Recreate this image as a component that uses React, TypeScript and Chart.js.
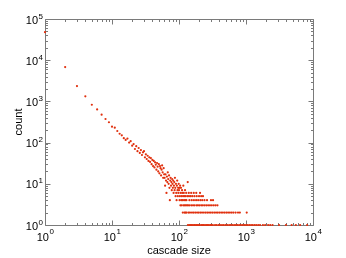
import { useEffect, useRef } from 'react';
import { Chart, registerables } from 'chart.js';

Chart.register(...registerables);

// Cascade sizes 1..135 and their counts
const headSizes = [
  1, 2, 3, 4, 5, 6, 7, 8, 9, 10, 11, 12, 13, 14, 15, 16, 17, 18, 19, 20,
  21, 22, 23, 24, 25, 26, 27, 28, 29, 30, 31, 32, 33, 34, 35, 36, 37, 38, 39, 40,
  41, 42, 43, 44, 45, 46, 47, 48, 49, 50, 51, 52, 53, 54, 55, 56, 57, 58, 59, 60,
  61, 62, 63, 64, 65, 66, 67, 68, 69, 70, 71, 72, 73, 74, 75, 76, 77, 78, 79, 80,
  81, 82, 83, 84, 85, 86, 87, 88, 89, 90, 91, 92, 93, 94, 95, 96, 97, 98, 99, 100,
  101, 102, 103, 104, 105, 106, 107, 108, 109, 110, 111, 112, 113, 114, 115, 116, 117, 118, 119, 120,
  121, 122, 123, 124, 125, 126, 127, 128, 129, 130, 132, 134, 135,
];
const headCounts = [
  48000, 6800, 2360, 1330, 830, 640, 476, 374, 312, 243, 230, 191, 164, 150, 128, 116, 125, 100, 108, 84,
  92, 70, 82, 62, 74, 56, 66, 50, 58, 62, 44, 52, 40, 48, 36, 44, 34, 42, 30, 38,
  27, 36, 25, 33, 29, 22, 32, 26, 20, 30, 18, 27, 24, 16, 22, 28, 19, 14, 24, 17,
  14, 9, 17, 12, 6, 15, 11, 19, 13, 10, 16, 8, 4, 12, 14, 9, 11, 7, 13, 10,
  8, 12, 6, 9, 11, 7, 14, 8, 5, 10, 6, 4, 9, 12, 7, 5, 8, 6, 10, 7,
  8, 4, 5, 9, 3, 6, 8, 4, 5, 3, 7, 6, 4, 2, 5, 9, 3, 6, 4, 5,
  2, 3, 7, 4, 2, 5, 3, 6, 4, 2, 3, 5, 11,
];

// Larger cascade sizes grouped by the count they were seen with
const tailSizesCount6 = [140, 152, 166, 181, 206];
const tailSizesCount5 = [141, 149, 158, 170, 184, 199, 214, 228];
const tailSizesCount4 = [143, 155, 167, 180, 193, 208, 222, 240, 262, 300, 322];
const tailSizesCount3 = [137, 144, 153, 162, 171, 183, 192, 203, 215, 227, 241, 256, 272, 290, 309, 330, 352, 375];
const tailSizesCount2 = [
  139, 146, 156, 165, 175, 186, 197, 209, 221, 235, 250, 265, 281, 298, 316, 336, 357, 378,
  401, 426, 452, 480, 510, 541, 575, 612, 650, 700, 760, 810, 1025,
];
const tailSizesCount1 = [
  136, 142, 148, 154, 161, 168, 174, 182, 189, 198, 205, 216, 225, 234, 245, 258, 268, 280, 295, 305,
  320, 345, 365, 390, 410, 438, 465, 495, 525, 560, 590, 625, 665, 705, 745, 790, 840, 890, 945, 1000,
  1060, 1120, 1190, 1260, 1340, 1420, 1520, 1620, 1790, 1930, 2140, 2300, 2490, 3110, 3950, 4800, 5550,
  6420, 8170,
];

const xTickExponents = [0, 1, 2, 3, 4];
const yTickExponents = [0, 1, 2, 3, 4, 5];
const xTitle = 'cascade size';
const yTitle = 'count';

const FONT = '"Liberation Sans", Arial, Helvetica, sans-serif';
const AXIS_COLOR = '#7a7a7a';
const POINT_COLOR = 'rgb(224, 48, 14)';

export default function App() {
  const ref = useRef<HTMLCanvasElement | null>(null);

  useEffect(() => {
    document.body.style.margin = '0';
    const canvas = ref.current;
    if (!canvas) return;

    const points: { x: number; y: number }[] = [];
    headSizes.forEach((s, i) => points.push({ x: s, y: headCounts[i] }));
    const tails: [number[], number][] = [
      [tailSizesCount6, 6],
      [tailSizesCount5, 5],
      [tailSizesCount4, 4],
      [tailSizesCount3, 3],
      [tailSizesCount2, 2],
      [tailSizesCount1, 1],
    ];
    tails.forEach(([sizes, c]) => sizes.forEach((s) => points.push({ x: s, y: c })));

    const axesPlugin = {
      id: 'boxAxes',
      beforeDatasetsDraw(chart: any) {
        const { ctx, chartArea, scales } = chart;
        const xs = scales.x;
        const ys = scales.y;
        const L = Math.round(chartArea.left) + 0.5;
        const R = Math.round(chartArea.right) + 0.5;
        const T = Math.round(chartArea.top) + 0.5;
        const B = Math.round(chartArea.bottom) + 0.5;
        ctx.save();
        ctx.strokeStyle = AXIS_COLOR;
        ctx.lineWidth = 1;
        ctx.beginPath();
        ctx.rect(L, T, R - L, B - T);
        ctx.stroke();
        const major = 5;
        const minor = 2.5;
        ctx.beginPath();
        for (let e = xTickExponents[0]; e <= xTickExponents[xTickExponents.length - 1]; e++) {
          for (let m = 1; m <= 9; m++) {
            const v = m * Math.pow(10, e);
            if (v > xs.max) break;
            const px = Math.round(xs.getPixelForValue(v)) + 0.5;
            const len = m === 1 ? major : minor;
            ctx.moveTo(px, B);
            ctx.lineTo(px, B - len);
            ctx.moveTo(px, T);
            ctx.lineTo(px, T + len);
          }
        }
        for (let e = yTickExponents[0]; e <= yTickExponents[yTickExponents.length - 1]; e++) {
          for (let m = 1; m <= 9; m++) {
            const v = m * Math.pow(10, e);
            if (v > ys.max) break;
            const py = Math.round(ys.getPixelForValue(v)) + 0.5;
            const len = m === 1 ? major : minor;
            ctx.moveTo(L, py);
            ctx.lineTo(L + len, py);
            ctx.moveTo(R, py);
            ctx.lineTo(R - len, py);
          }
        }
        ctx.stroke();
        ctx.restore();
      },
      afterDraw(chart: any) {
        const { ctx, chartArea, scales } = chart;
        const xs = scales.x;
        const ys = scales.y;
        ctx.save();
        ctx.fillStyle = '#000';
        ctx.textBaseline = 'alphabetic';
        const baseFont = `11px ${FONT}`;
        const supFont = `8px ${FONT}`;
        xTickExponents.forEach((e) => {
          const px = xs.getPixelForValue(Math.pow(10, e));
          ctx.font = baseFont;
          const w1 = ctx.measureText('10').width;
          ctx.font = supFont;
          const w2 = ctx.measureText(String(e)).width;
          const start = px - (w1 + w2) / 2;
          ctx.textAlign = 'left';
          ctx.font = baseFont;
          ctx.fillText('10', start, chartArea.bottom + 16);
          ctx.font = supFont;
          ctx.fillText(String(e), start + w1 + 0.5, chartArea.bottom + 8.5);
        });
        yTickExponents.forEach((e) => {
          const py = ys.getPixelForValue(Math.pow(10, e));
          ctx.font = supFont;
          const w2 = ctx.measureText(String(e)).width;
          const right = chartArea.left - 2;
          ctx.textAlign = 'left';
          ctx.fillText(String(e), right - w2, py - 0.5);
          ctx.font = baseFont;
          const w1 = ctx.measureText('10').width;
          ctx.fillText('10', right - w2 - 0.5 - w1, py + 4.5);
        });
        ctx.font = `11px ${FONT}`;
        ctx.textAlign = 'center';
        ctx.fillText(xTitle, (chartArea.left + chartArea.right) / 2, 254);
        ctx.save();
        ctx.translate(22, (chartArea.top + chartArea.bottom) / 2);
        ctx.rotate(-Math.PI / 2);
        ctx.fillText(yTitle, 0, 0);
        ctx.restore();
        ctx.restore();
      },
    };

    const chart = new Chart(canvas, {
      type: 'scatter',
      data: {
        datasets: [
          {
            data: points,
            pointRadius: 1.1,
            pointHoverRadius: 1.1,
            pointBackgroundColor: POINT_COLOR,
            pointBorderWidth: 0,
            pointBorderColor: POINT_COLOR,
            clip: false as any,
          },
        ],
      },
      options: {
        responsive: false,
        animation: false,
        events: [],
        layout: { padding: { left: 45, top: 19, right: 33, bottom: 33 } },
        plugins: { legend: { display: false }, tooltip: { enabled: false } },
        scales: {
          x: { type: 'logarithmic', min: 1, max: 10000, display: false },
          y: { type: 'logarithmic', min: 1, max: 100000, display: false },
        },
      },
      plugins: [axesPlugin],
    });
    return () => chart.destroy();
  }, []);

  return (
    <div style={{ width: 346, height: 258, background: '#fff' }}>
      <canvas ref={ref} width={346} height={258} style={{ display: 'block', width: 346, height: 258 }} />
    </div>
  );
}
